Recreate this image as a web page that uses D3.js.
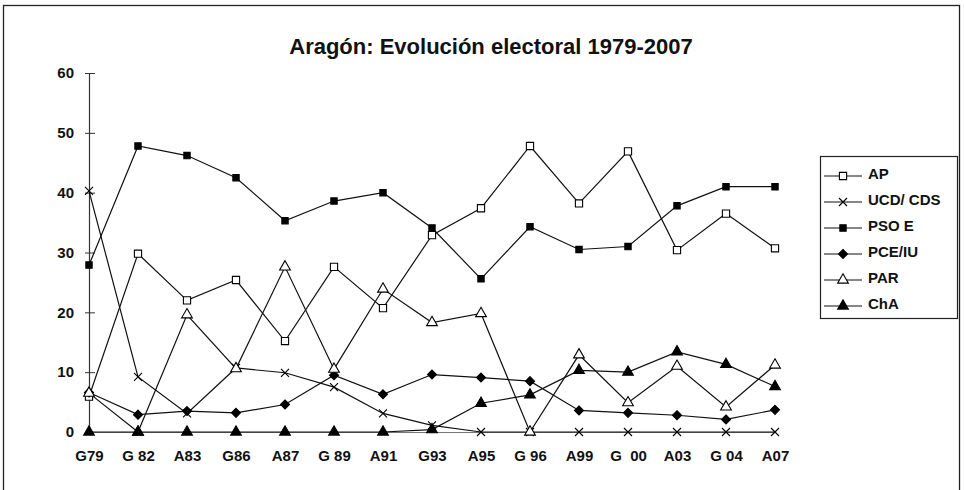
<!DOCTYPE html>
<html>
<head>
<meta charset="utf-8">
<script src="https://cdn.jsdelivr.net/npm/d3@7"></script>
<style>
  body { margin: 0; background: #fff; }
  text { font-family: "Liberation Sans", Arial, sans-serif; font-weight: bold; fill: #111; }
</style>
</head>
<body>
<div id="chart"></div>
<script>
// Electoral results for Aragon (% of vote)

const categories = ["G79", "G82", "A83", "G86", "A87", "G89", "A91", "G93", "A95", "G96", "A99", "G00", "A03", "G04", "A07"];
const tickLabels = ["G79", "G 82", "A83", "G86", "A87", "G 89", "A91", "G93", "A95", "G 96", "A99", "G  00", "A03", "G 04", "A07"];
const yTicks = [0, 10, 20, 30, 40, 50, 60];

const apValues   = [5.9, 29.8, 22.0, 25.4, 15.2, 27.6, 20.7, 32.9, 37.4, 47.8, 38.2, 46.9, 30.4, 36.5, 30.7];
const ucdValues  = [40.3, 9.2, 3.1, 10.7, 9.9, 7.5, 3.1, 1.1, 0, 0, 0, 0, 0, 0, 0];
const psoeValues = [27.9, 47.8, 46.2, 42.5, 35.3, 38.6, 40.0, 34.1, 25.6, 34.3, 30.5, 31.0, 37.8, 41.0, 41.0];
const pceValues  = [6.6, 2.9, 3.5, 3.2, 4.6, 9.5, 6.3, 9.6, 9.1, 8.5, 3.6, 3.2, 2.8, 2.1, 3.7];
const parValues  = [6.5, 0, 19.6, 10.6, 27.6, 10.5, 23.9, 18.3, 19.8, 0, 12.9, 4.9, 11.0, 4.2, 11.2];
const chaValues  = [0, 0, 0, 0, 0, 0, 0, 0.4, 4.8, 6.2, 10.3, 10.0, 13.4, 11.3, 7.6];

const seriesNames = ["AP", "UCD/ CDS", "PSO E", "PCE/IU", "PAR", "ChA"];
const seriesValues = [apValues, ucdValues, psoeValues, pceValues, parValues, chaValues];

// marker per series: [shape, size, filled]
const markers = [
  ["square", 52, false],
  ["x", 0, false],
  ["square", 40, true],
  ["diamond", 0, true],
  ["triangle", 50, false],
  ["triangle", 50, true]
];

const markerPath = (m) => {
  if (m[0] === "x") return "M-4,-4L4,4M-4,4L4,-4";
  if (m[0] === "diamond") return "M0,-4.5L4.5,0L0,4.5L-4.5,0Z";
  const type = m[0] === "square" ? d3.symbolSquare : d3.symbolTriangle;
  return d3.symbol().type(type).size(m[1])();
};

const drawChart = () => {
  const width = 964;
  const height = 490;

  const xScale = d3.scalePoint()
                   .domain(categories)
                   .range([89, 775]);

  const yScale = d3.scaleLinear()
                   .domain([0, 60])
                   .range([432, 73]);

  const svg = d3.select("#chart")
                .append("svg")
                .attr("width", width)
                .attr("height", height);

  // outer frame
  svg.append("rect")
     .attr("x", 3.5)
     .attr("y", 5.5)
     .attr("width", 956)
     .attr("height", 500)
     .attr("fill", "none")
     .attr("stroke", "#222")
     .attr("stroke-width", 1.3);

  svg.append("text")
     .attr("x", 491)
     .attr("y", 54)
     .attr("text-anchor", "middle")
     .style("font-size", "22px")
     .text("Aragón: Evolución electoral 1979-2007");

  // y axis with crossing ticks
  const yAxis = svg.append("g")
                   .attr("transform", "translate(89,0)")
                   .call(d3.axisLeft(yScale).tickValues(yTicks).tickSize(0).tickPadding(15));
  yAxis.select(".domain").attr("stroke", "#333").attr("stroke-width", 1.2);
  yAxis.selectAll(".tick line")
       .attr("x1", -4)
       .attr("x2", 6)
       .attr("stroke", "#333");
  yAxis.selectAll("text").style("font-size", "15px");

  const xAxis = svg.append("g")
                   .attr("transform", "translate(0,432)")
                   .call(d3.axisBottom(xScale).tickSize(0).tickPadding(18).tickFormat((d, i) => tickLabels[i]));
  xAxis.select(".domain").attr("stroke", "#777").attr("stroke-width", 1);
  xAxis.selectAll("text").style("font-size", "15px").style("white-space", "pre");

  const line = d3.line()
                 .x((d, i) => xScale(categories[i]))
                 .y((d) => yScale(d));

  seriesValues.forEach((values) => {
    svg.append("path")
       .datum(values)
       .attr("d", line)
       .attr("fill", "none")
       .attr("stroke", "#111")
       .attr("stroke-width", 1.2);
  });

  seriesValues.forEach((values, s) => {
    const m = markers[s];
    svg.append("g")
       .selectAll("path")
       .data(values)
       .enter()
       .append("path")
       .attr("transform", (d, i) => `translate(${xScale(categories[i])},${yScale(d)})`)
       .attr("d", markerPath(m))
       .attr("fill", m[2] ? "#000" : (m[0] === "x" ? "none" : "#fff"))
       .attr("stroke", "#000")
       .attr("stroke-width", 1.1);
  });

  // legend
  const legend = svg.append("g");
  legend.append("rect")
        .attr("x", 820.5)
        .attr("y", 156.5)
        .attr("width", 137)
        .attr("height", 162)
        .attr("fill", "#fff")
        .attr("stroke", "#222")
        .attr("stroke-width", 1.2);

  const itemY = d3.scaleLinear().domain([0, 5]).range([174, 304]);

  seriesNames.forEach((name, s) => {
    const y = itemY(s);
    legend.append("line")
          .attr("x1", 824)
          .attr("x2", 862)
          .attr("y1", y + 2)
          .attr("y2", y + 2)
          .attr("stroke", "#111")
          .attr("stroke-width", 1.1);
    legend.append("path")
          .attr("transform", `translate(843,${y + 2})`)
          .attr("d", markerPath(markers[s]))
          .attr("fill", markers[s][2] ? "#000" : (markers[s][0] === "x" ? "none" : "#fff"))
          .attr("stroke", "#000")
          .attr("stroke-width", 1.1);
    legend.append("text")
          .attr("x", 868)
          .attr("y", y + 5)
          .style("font-size", "15px")
          .text(name);
  });
}

drawChart();
</script>
</body>
</html>
